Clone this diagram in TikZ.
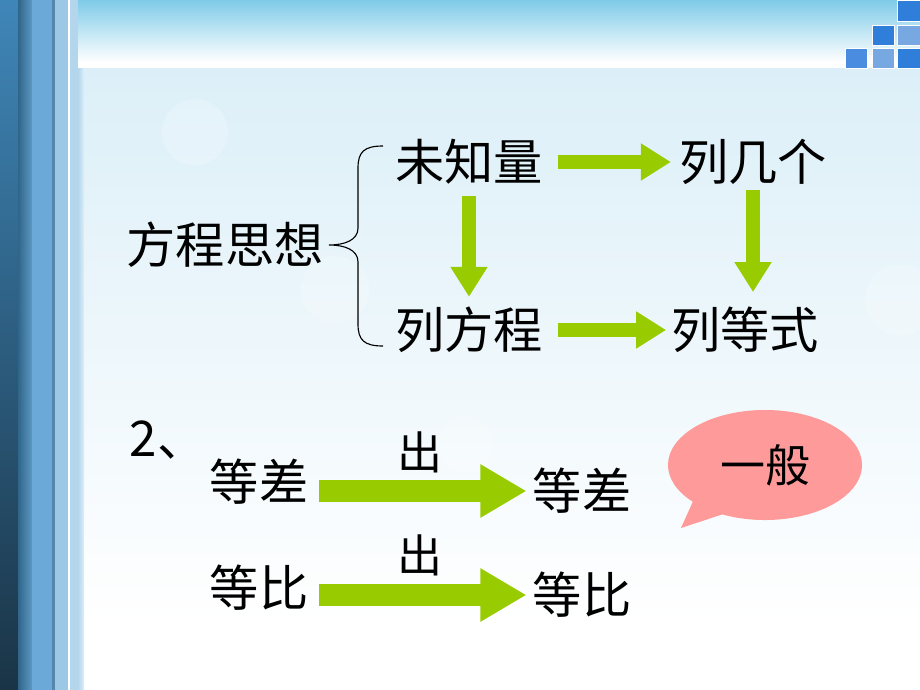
\documentclass[tikz,border=0pt]{standalone}
\usepackage{fontspec}
\newfontfamily\cjk{Noto Sans CJK SC}
\usetikzlibrary{shapes.geometric,shapes.callouts,arrows.meta}
\definecolor{arrowgreen}{HTML}{99CC00}
\definecolor{bubblepink}{HTML}{FF9A9A}
\definecolor{skytop}{HTML}{7FCBE8}
\definecolor{paletop}{HTML}{DCEFF8}
\definecolor{sqdark}{HTML}{2F7FDA}
\definecolor{sqmid}{HTML}{4A8CE0}
\definecolor{sqlight}{HTML}{78A8E2}
\definecolor{stripeA}{HTML}{3F86B8}
\definecolor{stripeAd}{HTML}{1A3446}
\definecolor{stripeB}{HTML}{6AA9D8}
\definecolor{stripeC}{HTML}{9CC8E6}
\definecolor{stripeD}{HTML}{B4D6EC}
\tikzset{
  bigtext/.style={font=\cjk\fontsize{35}{40}\selectfont, inner sep=0pt, text=black},
  midtext/.style={font=\cjk\fontsize{32}{36}\selectfont, inner sep=0pt, text=black},
  flowarrow/.style={draw=arrowgreen, line width=0.36cm,
    -{Triangle[length=0.75cm, width=0.88cm, fill=arrowgreen]}},
  widearrow/.style={draw=arrowgreen, line width=0.56cm,
    -{Triangle[length=1.15cm, width=1.25cm, fill=arrowgreen]}},
  watermark/.style={fill=white, opacity=0.2},
  square/.style={draw=white, line width=0.6pt}
}
\begin{document}
\begin{tikzpicture}[x=0.025cm,y=-0.025cm]
\useasboundingbox (0,0) rectangle (920,690);
% backgrounds
\fill[white] (0,0) rectangle (920,690);
\shade[top color=skytop, bottom color=white] (0,0) rectangle (920,62);
\fill[white] (0,62) rectangle (920,69);
\shade[top color=paletop, bottom color=white] (80,69) rectangle (920,625);
\fill[white] (80,625) rectangle (920,690);
% left stripes
\shade[top color=stripeA, bottom color=stripeAd] (0,0) rectangle (20,690);
\shade[left color=stripeAd!40!stripeA, right color=stripeA!85!white] (18,0) rectangle (32,690);
\fill[stripeB] (32,0) rectangle (52,690);
\fill[stripeB!80!black] (52,0) rectangle (55,690);
\fill[stripeC] (55,0) rectangle (68,690);
\fill[white] (68,0) rectangle (70,690);
\fill[stripeD] (70,0) rectangle (78,690);
\shade[left color=stripeD, right color=paletop] (78,69) rectangle (84,690);
% squares
\fill[sqdark, square] (897,0) rectangle (920,21);
\fill[sqdark, square] (872,25) rectangle (894,45);
\fill[sqlight, square] (897,25) rectangle (920,45);
\fill[sqmid, square] (845,48) rectangle (867,68);
\fill[sqlight, square] (872,48) rectangle (894,68);
\fill[sqdark, square] (897,48) rectangle (920,68);
% faint watermark circles
\fill[watermark] (195,132) circle (33);
\fill[watermark] (335,290) circle (34);
\fill[watermark] (900,300) circle (35);
\fill[watermark] (465,445) circle (28);
\fill[watermark] (585,582) circle (25);
% part 1
\node[bigtext] (fcsx) at (225,245) {方程思想};
\node[bigtext] (wzl) at (469,162) {未知量};
\node[bigtext] (ljg) at (753,162) {列几个};
\node[bigtext] (lfc) at (469,330) {列方程};
\node[bigtext] (ldsh) at (745,330) {列等式};
\coordinate (btop) at (383,146);
\coordinate (btip) at (329,245);
\coordinate (bbot) at (383,346);
\draw[line width=0.8pt] (btop) .. controls (364,146) and (358,152) .. (358,168)
  -- (358,228) .. controls (358,240) and (345,245) .. (btip)
  .. controls (345,245) and (358,250) .. (358,262)
  -- (358,324) .. controls (358,340) and (364,346) .. (bbot);
\draw[flowarrow, shorten <=0.38cm, shorten >=0.2cm] (wzl.east) -- (ljg.west);
\draw[flowarrow, shorten <=0.38cm, shorten >=0.12cm] (lfc.east) -- (ldsh.west);
\draw[flowarrow, shorten <=0.28cm, shorten >=0.25cm] (wzl.south) -- (wzl.south |- lfc.north);
\draw[flowarrow, shorten <=0.12cm, shorten >=0.37cm] (ljg.south) -- (ljg.south |- ldsh.north);
% part 2
\node[bigtext] (num) at (168,440) {2、};
\node[bigtext] (dcl) at (259,482) {等差};
\node[bigtext] (dcr) at (582,491) {等差};
\node[bigtext] (dbl) at (259,588) {等比};
\node[bigtext] (dbr) at (582,595) {等比};
\node[midtext] (chu1) at (420,452) {出};
\node[midtext] (chu2) at (420,555) {出};
\draw[widearrow, shorten <=0.25cm, shorten >=0.15cm] (dcl.east |- dcr.west) -- (dcr.west);
\draw[widearrow, shorten <=0.25cm, shorten >=0.15cm] (dbl.east |- dbr.west) -- (dbr.west);
% bubble
\node[ellipse callout, fill=bubblepink, minimum width=4.85cm, minimum height=2.75cm,
  callout absolute pointer={(681,528)}, callout pointer arc=22,
  midtext] (yb) at (765,465) {一般};
\end{tikzpicture}
\end{document}
